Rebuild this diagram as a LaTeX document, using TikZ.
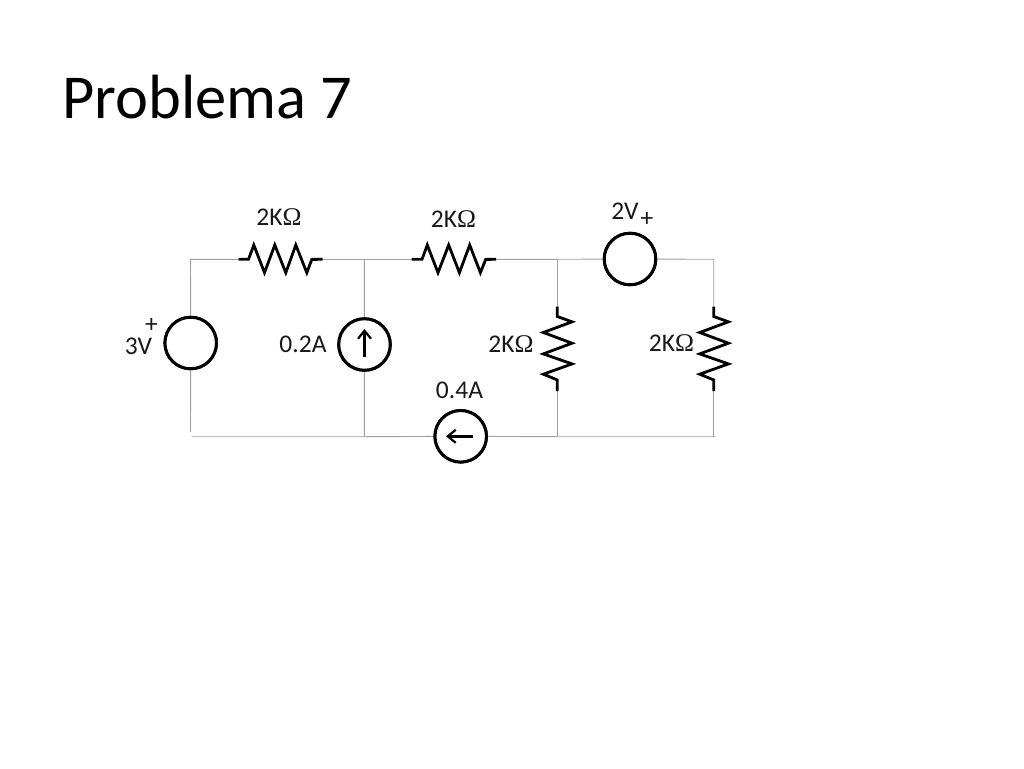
\documentclass[tikz,border=0pt]{standalone}
\usepackage{fontspec}
\setmainfont{Carlito}
\newfontfamily\omegafont{Liberation Serif}
\newcommand{\ohm}{{\omegafont Ω}}
\tikzset{
  wire/.style={draw=black!38,line width=0.9pt},
  part/.style={draw=black,line width=2.8pt,line join=miter},
  srcnode/.style={circle,draw=black,line width=3pt,minimum size=51.5pt,inner sep=0pt,fill=white},
  lbl/.style={font=\fontsize{25.5}{28}\selectfont,text=black!90,inner sep=0pt},
  arr/.style={draw=black,line width=2.4pt,-{Straight Barb[length=8pt,width=13pt,line width=2.2pt]}}
}
\usetikzlibrary{arrows.meta}
\begin{document}
\begin{tikzpicture}[x=1pt,y=-1pt]
\useasboundingbox (0,0) rectangle (1024,768);
\fill[white] (0,0) rectangle (1024,768);
% junctions and corners
\coordinate (tl) at (190.5,259.3);
\coordinate (tm) at (364.3,259.3);
\coordinate (tr) at (557.3,259.3);
\coordinate (tc) at (713.7,259.3);
\coordinate (bl) at (190.5,432);
\coordinate (blh) at (191.5,436.7);
\coordinate (bm) at (364.3,436.7);
\coordinate (br) at (557.3,436.7);
\coordinate (bc) at (715.5,436.7);
\coordinate (bcv) at (713.7,436.7);
% resistor ends
\coordinate (r1a) at (238.5,259.3);
\coordinate (r1b) at (322.7,259.3);
\coordinate (r2a) at (411.5,259.3);
\coordinate (r2b) at (496,259.3);
\coordinate (r3a) at (557.3,306.5);
\coordinate (r3b) at (557.3,391);
\coordinate (r4a) at (713.7,306.5);
\coordinate (r4b) at (713.7,391);
% sources
\node[srcnode] (v1) at (190.7,343) {};
\node[srcnode] (i1) at (364.5,344.5) {};
\node[srcnode] (v2) at (630,259) {};
\node[srcnode] (i2) at (460.7,436.3) {};
% wires
\draw[wire] (bl) -- (v1) (v1) -- (tl) -- (r1a);
\draw[wire] (r1b) -- (tm) -- (r2a);
\draw[wire] (r2b) -- (tr) -- (v2);
\draw[wire] (v2) -- (tc) -- (r4a);
\draw[wire] (tm) -- (i1) (i1) -- (bm);
\draw[wire] (tr) -- (r3a) (r3b) -- (br);
\draw[wire] (r4b) -- (bcv);
\draw[wire] (blh) -- (bm) -- (i2) (i2) -- (br) -- (bc);
% redraw source circles above wires
\node[srcnode] at (v1) {};
\node[srcnode] at (i1) {};
\node[srcnode] at (v2) {};
\node[srcnode] at (i2) {};
% resistors
\draw[part] (r1a) -- ++(10,0) -- ++(5.3,-14.3) -- ++(10.7,27.7) -- ++(10.3,-27.7) -- ++(11,27.7) -- ++(10,-27.7) -- ++(11,27.7) -- ++(5,-13.3) -- (r1b);
\draw[part] (r2a) -- ++(10.5,0) -- ++(5.3,-14.3) -- ++(10.7,27.7) -- ++(10.7,-27.7) -- ++(10.7,27.7) -- ++(10.3,-27.7) -- ++(10.7,27.7) -- ++(5.3,-13.3) -- (r2b);
\draw[part] (r3a) -- ++(0,10) -- ++(14.7,5.3) -- ++(-28.7,10.7) -- ++(28.7,10.7) -- ++(-28.7,10.7) -- ++(28.7,10) -- ++(-28.7,10.3) -- ++(14,5.7) -- (r3b);
\draw[part] (r4a) -- ++(0,10) -- ++(14.7,5.3) -- ++(-28.7,10.7) -- ++(28.7,10.7) -- ++(-28.7,10.7) -- ++(28.7,10) -- ++(-28.7,10.3) -- ++(14,5.7) -- (r4b);
% source arrows
\coordinate (i1t) at (364.5,329);
\coordinate (i1b) at (364.5,357);
\coordinate (i2h) at (446,436.3);
\coordinate (i2t) at (472.7,436.3);
\draw[arr] (i1b) -- (i1t);
\draw[arr] (i2t) -- (i2h);
% labels
\node[anchor=west,font=\fontsize{62.5}{68}\selectfont,text=black,inner sep=0pt] (title) at (62,97) {Problema 7};
\node[lbl] (lr1) at (279,217) {2K\ohm};
\node[lbl] (lr2) at (453.5,219.5) {2K\ohm};
\node[lbl] (lr3) at (511,344) {2K\ohm};
\node[lbl] (lr4) at (671.5,343) {2K\ohm};
\node[lbl] (l3v) at (138.5,346) {3V};
\node[lbl] (l3p) at (151.5,325) {+};
\node[lbl] (l2v) at (625,211) {2V};
\node[lbl] (l2p) at (647,219) {+};
\node[lbl] (la1) at (303,344.5) {0.2A};
\node[lbl] (la2) at (459.5,390) {0.4A};
\end{tikzpicture}
\end{document}
